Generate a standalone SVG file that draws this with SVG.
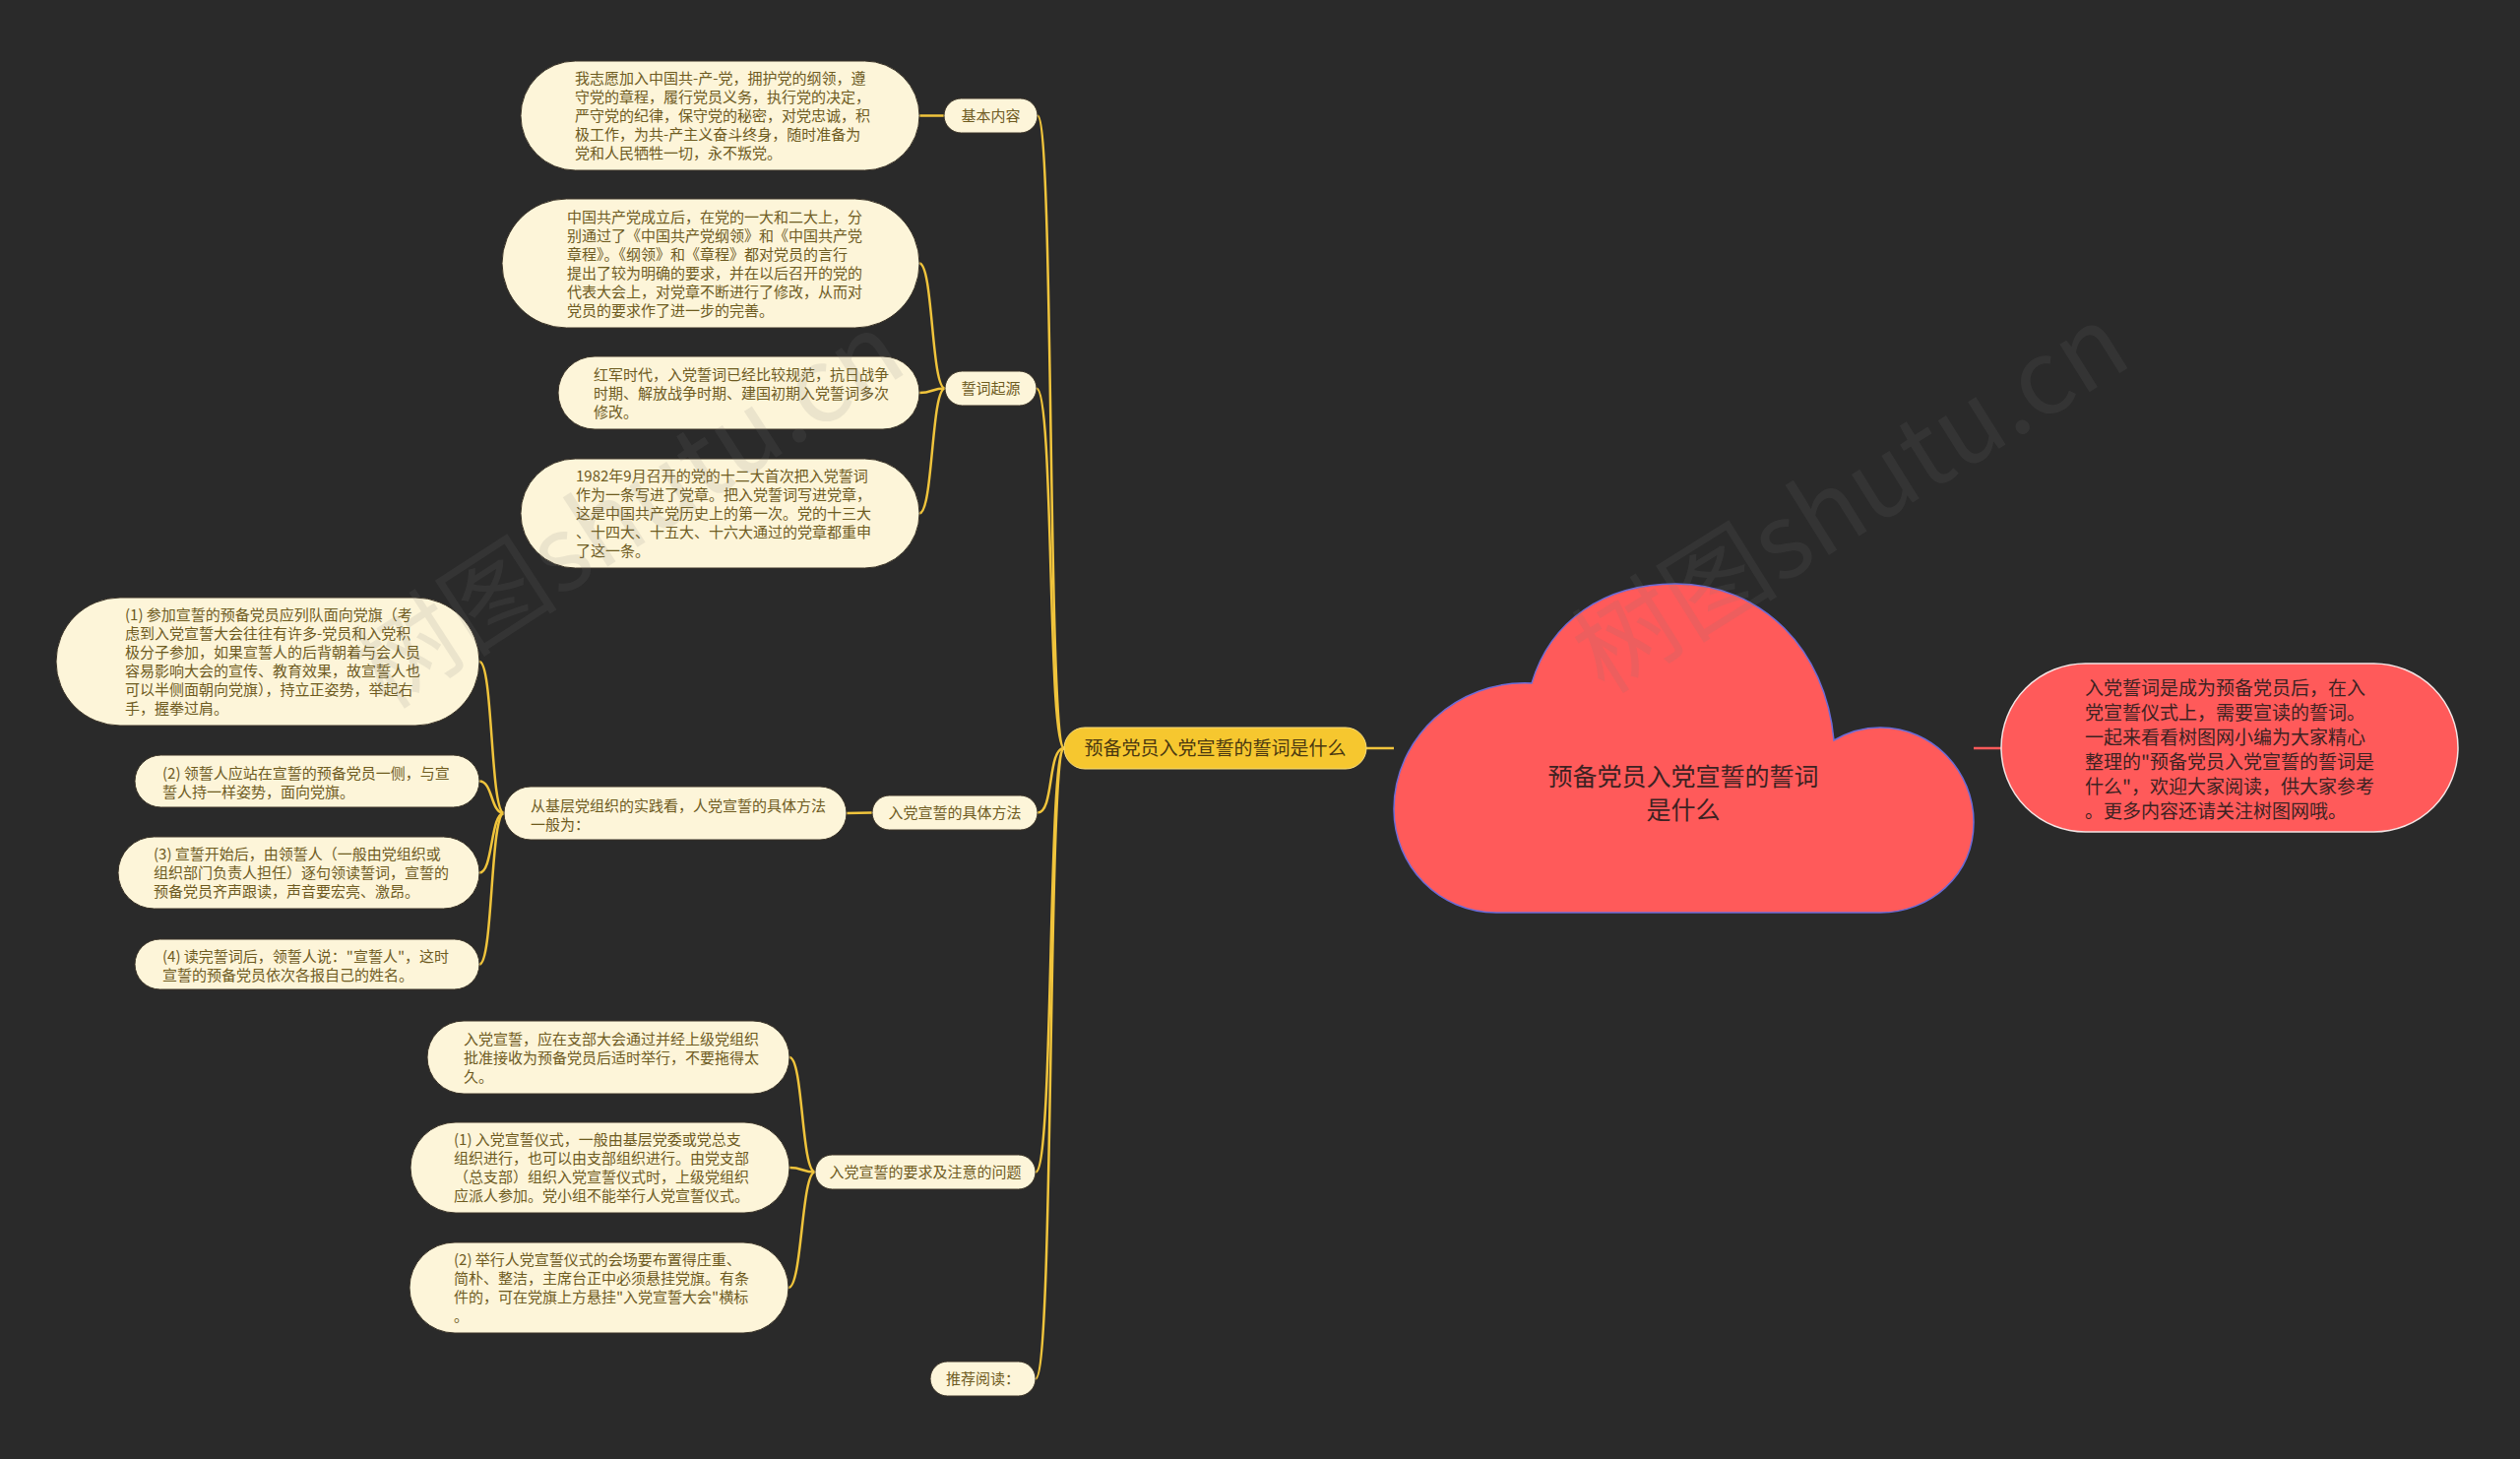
<svg xmlns="http://www.w3.org/2000/svg" width="2560" height="1482" viewBox="0 0 2560 1482">
<style>
.bg{fill:#2a2a2a}
.pill{fill:#fdf5d9;stroke:#3a3328;stroke-width:1}
.t{font-family:"Noto Sans CJK SC","Noto Sans",sans-serif;font-size:15px;fill:#6e5b1f}
.lbl{font-family:"Noto Sans CJK SC","Noto Sans",sans-serif;font-size:15px;fill:#6e5b1f;text-anchor:middle}
.con{fill:none;stroke:#f0c43c;stroke-width:2.5}
.main{fill:#f6c72f;stroke:#f9dc7a;stroke-width:1}
.mt{font-family:"Noto Sans CJK SC","Noto Sans",sans-serif;font-size:19px;fill:#4a3810;text-anchor:middle}
.red{fill:#ff5a5a}
.rt{font-family:"Noto Sans CJK SC","Noto Sans",sans-serif;font-size:19px;fill:#3d2222}
.ct{font-family:"Noto Sans CJK SC","Noto Sans",sans-serif;font-size:25px;fill:#3d2222;text-anchor:middle}
.wm{font-family:"Noto Sans CJK SC","Noto Sans",sans-serif;font-size:105px;fill:#7a7a7a;opacity:0.13}
</style>
<rect class="bg" x="0" y="0" width="2560" height="1482"/>

<g id="connectors">
  <path class="con" d="M1081 760 C1064 760 1071 117.5 1054 117.5"/>
  <path class="con" d="M1081 760 C1064 760 1071 394.5 1053 394.5"/>
  <path class="con" d="M1081 760 C1064 760 1071 825.5 1054 825.5"/>
  <path class="con" d="M1081 760 C1064 760 1071 1190.5 1052 1190.5"/>
  <path class="con" d="M1081 760 C1064 760 1071 1400.5 1052 1400.5"/>
  <path class="con" d="M959 117.5 L934 117.5"/>
  <path class="con" d="M960 394.5 C946 394.5 948 267.5 934 267.5"/>
  <path class="con" d="M960 394.5 C946 394.5 948 399 934 399"/>
  <path class="con" d="M960 394.5 C946 394.5 948 521.5 934 521.5"/>
  <path class="con" d="M886 825.5 L860 826"/>
  <path class="con" d="M512 826 C498 826 501 672 487 672"/>
  <path class="con" d="M512 826 C498 826 501 793.5 487 793.5"/>
  <path class="con" d="M512 826 C498 826 501 886.5 487 886.5"/>
  <path class="con" d="M512 826 C498 826 501 979.5 487 979.5"/>
  <path class="con" d="M828 1190.5 C814 1190.5 816 1074 802 1074"/>
  <path class="con" d="M828 1190.5 C814 1190.5 816 1186 802 1186"/>
  <path class="con" d="M828 1190.5 C814 1190.5 815 1308 801 1308"/>
  <path class="con" d="M1388 760 L1416 760"/>
  <path d="M2005 760 L2033 760" fill="none" stroke="#ff5a5a" stroke-width="2.5"/>
</g>

<g id="root">
  <path class="red" stroke="#6b6bd6" stroke-width="1.5" d="M1556 694 C1575 630 1630 593 1702 593 C1790 593 1855 660 1863 752 C1880 742 1895 739 1910 739 C1965 739 2005 785 2005 835 C2005 890 1960 927 1910 927 L1520 927 C1462 927 1416 880 1416 822 C1416 750 1480 690 1556 694 Z"/>
  <text class="ct"><tspan x="1710" y="797.5">预备党员入党宣誓的誓词</tspan><tspan x="1710" y="831.5">是什么</tspan></text>
</g>

<g id="summary">
  <rect class="red" x="2033" y="674" width="464" height="171" rx="85.5" stroke="#f4e4e4" stroke-width="1.5"/>
  <text class="rt"><tspan x="2118" y="706">入党誓词是成为预备党员后，在入</tspan><tspan x="2118" y="731">党宣誓仪式上，需要宣读的誓词。</tspan><tspan x="2118" y="756">一起来看看树图网小编为大家精心</tspan><tspan x="2118" y="781">整理的"预备党员入党宣誓的誓词是</tspan><tspan x="2118" y="806">什么"，欢迎大家阅读，供大家参考</tspan><tspan x="2118" y="831">。更多内容还请关注树图网哦。</tspan></text>
</g>

<g id="main-branch">
  <rect class="main" x="1081" y="739" width="307" height="42" rx="21"/>
  <text class="mt" x="1234.5" y="767">预备党员入党宣誓的誓词是什么</text>
</g>

<g id="label-basic">
  <rect class="pill" x="959" y="100" width="95" height="35" rx="17.5"/>
  <text class="lbl" x="1006.5" y="123">基本内容</text>
</g>
<g id="node-basic">
  <rect class="pill" x="529" y="62" width="405" height="111" rx="55.5"/>
  <text class="t"><tspan x="584" y="85">我志愿加入中国共-产-党，拥护党的纲领，遵</tspan><tspan x="584" y="104">守党的章程，履行党员义务，执行党的决定，</tspan><tspan x="584" y="123">严守党的纪律，保守党的秘密，对党忠诚，积</tspan><tspan x="584" y="142">极工作，为共-产主义奋斗终身，随时准备为</tspan><tspan x="584" y="161">党和人民牺牲一切，永不叛党。</tspan></text>
</g>

<g id="label-origin">
  <rect class="pill" x="960" y="377" width="93" height="35" rx="17.5"/>
  <text class="lbl" x="1006.5" y="400">誓词起源</text>
</g>
<g id="node-origin-1">
  <rect class="pill" x="510" y="202" width="424" height="131" rx="65.5"/>
  <text class="t"><tspan x="576" y="225.5">中国共产党成立后，在党的一大和二大上，分</tspan><tspan x="576" y="244.5">别通过了《中国共产党纲领》和《中国共产党</tspan><tspan x="576" y="263.5">章程》。《纲领》和《章程》都对党员的言行</tspan><tspan x="576" y="282.5">提出了较为明确的要求，并在以后召开的党的</tspan><tspan x="576" y="301.5">代表大会上，对党章不断进行了修改，从而对</tspan><tspan x="576" y="320.5">党员的要求作了进一步的完善。</tspan></text>
</g>
<g id="node-origin-2">
  <rect class="pill" x="567" y="362" width="367" height="74" rx="37"/>
  <text class="t"><tspan x="603" y="385.5">红军时代，入党誓词已经比较规范，抗日战争</tspan><tspan x="603" y="404.5">时期、解放战争时期、建国初期入党誓词多次</tspan><tspan x="603" y="423.5">修改。</tspan></text>
</g>
<g id="node-origin-3">
  <rect class="pill" x="529" y="466" width="405" height="111" rx="55.5"/>
  <text class="t"><tspan x="585" y="489">1982年9月召开的党的十二大首次把入党誓词</tspan><tspan x="585" y="508">作为一条写进了党章。把入党誓词写进党章，</tspan><tspan x="585" y="527">这是中国共产党历史上的第一次。党的十三大</tspan><tspan x="585" y="546">、十四大、十五大、十六大通过的党章都重申</tspan><tspan x="585" y="565">了这一条。</tspan></text>
</g>

<g id="label-method">
  <rect class="pill" x="886" y="808" width="168" height="35" rx="17.5"/>
  <text class="lbl" x="970" y="831">入党宣誓的具体方法</text>
</g>
<g id="node-method">
  <rect class="pill" x="512" y="799" width="348" height="54" rx="27"/>
  <text class="t"><tspan x="539" y="824">从基层党组织的实践看，人党宣誓的具体方法</tspan><tspan x="539" y="843">一般为：</tspan></text>
</g>
<g id="node-method-1">
  <rect class="pill" x="57" y="607" width="430" height="130" rx="65"/>
  <text class="t"><tspan x="127" y="630">(1) 参加宣誓的预备党员应列队面向党旗（考</tspan><tspan x="127" y="649">虑到入党宣誓大会往往有许多-党员和入党积</tspan><tspan x="127" y="668">极分子参加，如果宣誓人的后背朝着与会人员</tspan><tspan x="127" y="687">容易影响大会的宣传、教育效果，故宣誓人也</tspan><tspan x="127" y="706">可以半侧面朝向党旗），持立正姿势，举起右</tspan><tspan x="127" y="725">手，握拳过肩。</tspan></text>
</g>
<g id="node-method-2">
  <rect class="pill" x="137" y="767" width="350" height="53" rx="26.5"/>
  <text class="t"><tspan x="165" y="791">(2) 领誓人应站在宣誓的预备党员一侧，与宣</tspan><tspan x="165" y="810">誓人持一样姿势，面向党旗。</tspan></text>
</g>
<g id="node-method-3">
  <rect class="pill" x="120" y="850" width="367" height="73" rx="36.5"/>
  <text class="t"><tspan x="156" y="873">(3) 宣誓开始后，由领誓人（一般由党组织或</tspan><tspan x="156" y="892">组织部门负责人担任）逐句领读誓词，宣誓的</tspan><tspan x="156" y="911">预备党员齐声跟读，声音要宏亮、激昂。</tspan></text>
</g>
<g id="node-method-4">
  <rect class="pill" x="137" y="954" width="350" height="51" rx="25.5"/>
  <text class="t"><tspan x="165" y="977">(4) 读完誓词后，领誓人说："宣誓人"，这时</tspan><tspan x="165" y="996">宣誓的预备党员依次各报自己的姓名。</tspan></text>
</g>

<g id="label-require">
  <rect class="pill" x="828" y="1173" width="224" height="35" rx="17.5"/>
  <text class="lbl" x="940" y="1196">入党宣誓的要求及注意的问题</text>
</g>
<g id="node-require-1">
  <rect class="pill" x="434" y="1037" width="368" height="74" rx="37"/>
  <text class="t"><tspan x="471" y="1060.5">入党宣誓，应在支部大会通过并经上级党组织</tspan><tspan x="471" y="1079.5">批准接收为预备党员后适时举行，不要拖得太</tspan><tspan x="471" y="1098.5">久。</tspan></text>
</g>
<g id="node-require-2">
  <rect class="pill" x="417" y="1140" width="385" height="92" rx="46"/>
  <text class="t"><tspan x="461" y="1163">(1) 入党宣誓仪式，一般由基层党委或党总支</tspan><tspan x="461" y="1182">组织进行，也可以由支部组织进行。由党支部</tspan><tspan x="461" y="1201">（总支部）组织入党宣誓仪式时，上级党组织</tspan><tspan x="461" y="1220">应派人参加。党小组不能举行人党宣誓仪式。</tspan></text>
</g>
<g id="node-require-3">
  <rect class="pill" x="416" y="1262" width="385" height="92" rx="46"/>
  <text class="t"><tspan x="461" y="1285">(2) 举行人党宣誓仪式的会场要布置得庄重、</tspan><tspan x="461" y="1304">简朴、整洁，主席台正中必须悬挂党旗。有条</tspan><tspan x="461" y="1323">件的，可在党旗上方悬挂"入党宣誓大会"横标</tspan><tspan x="461" y="1342">。</tspan></text>
</g>

<g id="label-read">
  <rect class="pill" x="945" y="1383" width="107" height="35" rx="17.5"/>
  <text class="lbl" x="998.5" y="1406">推荐阅读：</text>
</g>

<g id="watermark">
  <text class="wm" x="392" y="722" transform="rotate(-33 392 722)">树图shutu.cn</text>
  <text class="wm" x="1630" y="706" transform="rotate(-32 1630 706)">树图shutu.cn</text>
</g>
</svg>
